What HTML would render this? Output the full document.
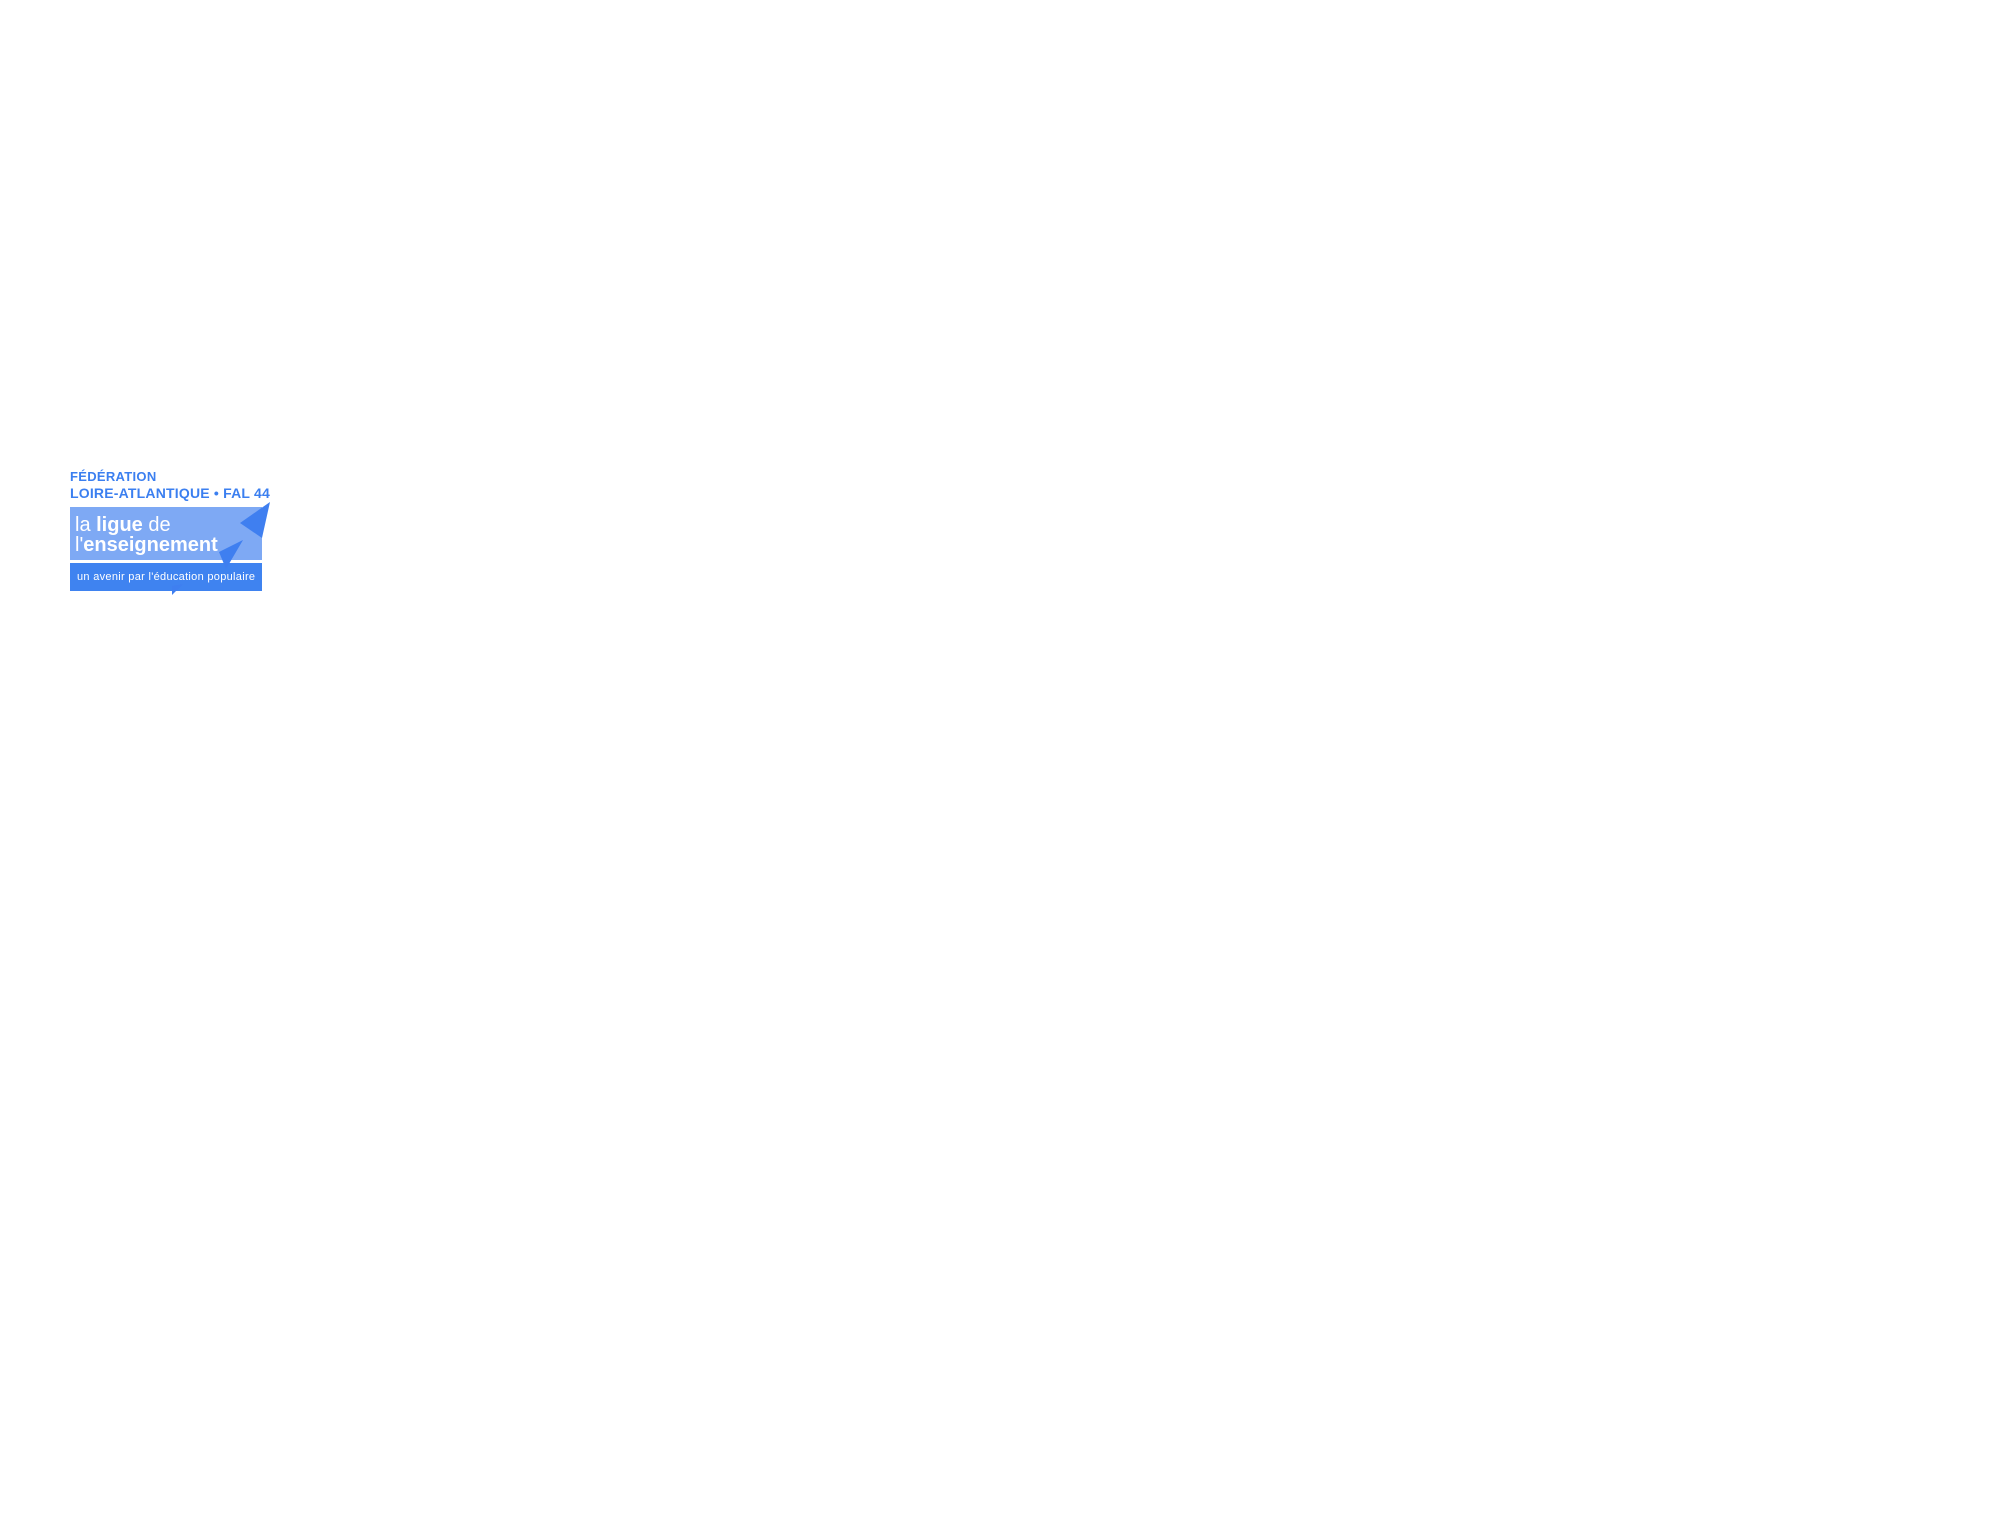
<!DOCTYPE html>
<html><head><meta charset="utf-8"><style>
body{margin:0;width:2000px;height:1524px;background:#fff;position:relative;overflow:hidden;font-family:"Liberation Sans",sans-serif}
.t{position:absolute;color:#3b7ff0;font-weight:bold;white-space:nowrap}
</style></head><body>
<div class="t" style="left:70px;top:469px;font-size:13px;letter-spacing:0.3px">FÉDÉRATION</div>
<div class="t" style="left:70px;top:485px;font-size:14px;letter-spacing:0.2px">LOIRE-ATLANTIQUE • FAL 44</div>
<div style="position:absolute;left:70px;top:507px;width:192px;height:53px;background:#7ea9f4"></div>
<div style="position:absolute;left:70px;top:563px;width:192px;height:28px;background:#3f83f0"></div>
<svg style="position:absolute;left:0;top:0" width="2000" height="1524">
<polygon points="270,502 240,523 262,538" fill="#3f7ff0"/>
<polygon points="243,540 219,552 226,569" fill="#3f7ff0"/>
<polygon points="183,584 172,586 172,595" fill="#3f7ff0"/>
</svg>
<div style="position:absolute;left:75px;top:515px;font-size:20px;color:#fff;white-space:nowrap;line-height:20px">la <b>ligue</b> de<br>l'<b>enseignement</b></div>
<div style="position:absolute;left:77px;top:571px;font-size:11px;color:#fff;white-space:nowrap;letter-spacing:0.3px">un avenir par l'éducation populaire</div>
</body></html>
